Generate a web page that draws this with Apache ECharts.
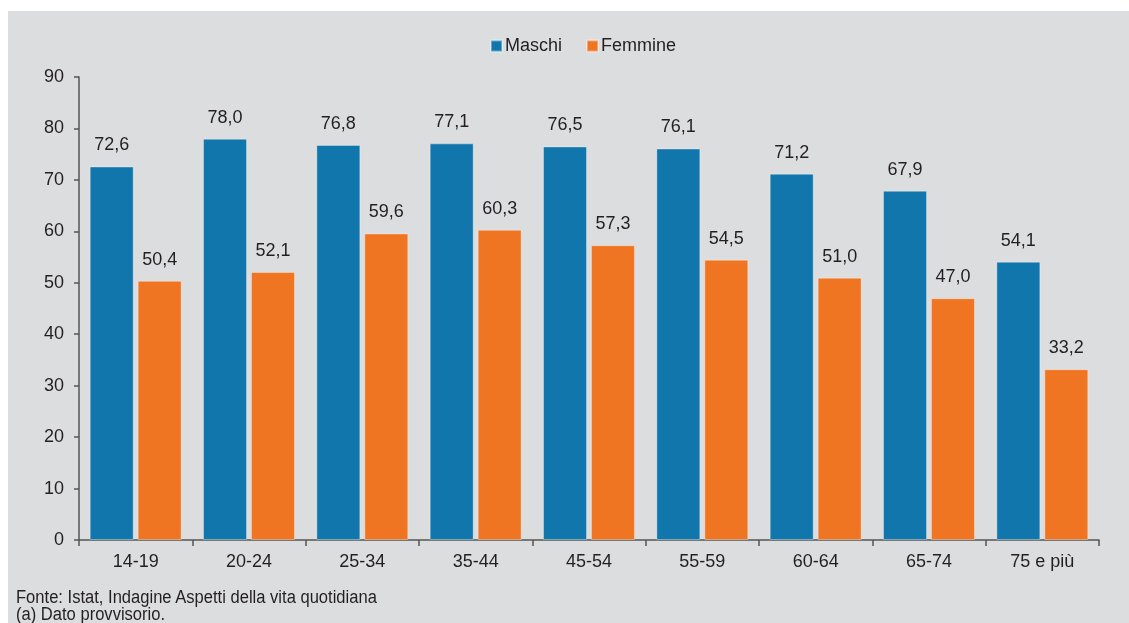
<!DOCTYPE html>
<html>
<head>
<meta charset="utf-8">
<script src="https://cdn.jsdelivr.net/npm/echarts@6/dist/echarts.min.js"></script>
<style>
html,body{margin:0;padding:0;background:#fff;}
#wrap{position:absolute;left:8px;top:11px;width:1121px;height:612px;background:#dcdddf;overflow:hidden;}
#chart{position:absolute;left:0;top:0;width:1121px;height:612px;}
#note{position:absolute;left:8px;top:578px;font-family:"Liberation Sans",Arial,sans-serif;font-size:18px;line-height:17px;color:#231f20;white-space:nowrap;transform:scaleX(0.92);transform-origin:0 0;}
</style>
</head>
<body>
<div id="wrap"><div id="chart"></div>
<div id="note">Fonte: Istat, Indagine Aspetti della vita quotidiana<br>(a) Dato provvisorio.</div></div>
<script>
const categories = ["14-19","20-24","25-34","35-44","45-54","55-59","60-64","65-74","75 e più"];
const maschi = [72.6,78.0,76.8,77.1,76.5,76.1,71.2,67.9,54.1];
const femmine = [50.4,52.1,59.6,60.3,57.3,54.5,51.0,47.0,33.2];
const seriesNames = ["Maschi","Femmine"];

const chart = echarts.init(document.getElementById('chart'), null, {renderer:'canvas'});
const txt = '#231f20';
const font = '"Liberation Sans", Arial, sans-serif';
const fs = 18;
const lbl = {show:true, position:'top', distance:12, color:txt, fontSize:fs, fontFamily:font,
  formatter: p => p.value.toFixed(1).replace('.', ',')};
chart.setOption({
  animation:false,
  backgroundColor:'transparent',
  textStyle:{fontFamily:font},
  legend:{top:21, left:477, itemWidth:11, itemHeight:11, itemGap:24, icon:'rect',
    textStyle:{color:txt, fontSize:fs, fontFamily:font, padding:[0,0,0,-2]},
    data:seriesNames},
  grid:{left:71, right:30, top:66, bottom:83},
  xAxis:{type:'category', data:categories,
    axisLine:{lineStyle:{color:'#555', width:1.5}},
    axisTick:{show:true, length:6, lineStyle:{color:'#555', width:1.5}},
    axisLabel:{color:txt, fontSize:fs, fontFamily:font, margin:13}},
  yAxis:{type:'value', min:0, max:90, interval:10,
    axisLine:{show:true, lineStyle:{color:'#555', width:1.5}},
    axisTick:{show:true, length:5, lineStyle:{color:'#555', width:1.5}},
    splitLine:{show:false},
    axisLabel:{color:txt, fontSize:fs, fontFamily:font, margin:15}},
  series:[
    {name:seriesNames[0], type:'bar', data:maschi, barWidth:44, barGap:'9%',
     itemStyle:{color:'#1176ab', borderColor:'rgba(255,255,255,0.35)', borderWidth:1}, label:lbl},
    {name:seriesNames[1], type:'bar', data:femmine, barWidth:44,
     itemStyle:{color:'#f07522', borderColor:'rgba(255,255,255,0.35)', borderWidth:1}, label:lbl}
  ]
});
</script>
</body>
</html>
